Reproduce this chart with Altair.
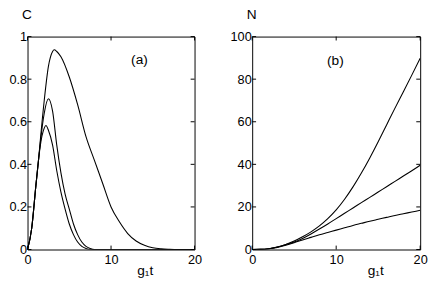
import altair as alt
import pandas as pd

# ---------------- data ----------------
# panel (a): C vs g1 t
t_a1 = [0, 0.5, 1, 1.34, 1.5, 2, 2.5, 3, 3.2, 3.5, 4, 5, 6, 7, 8, 9, 10, 11, 12, 13, 14, 15, 16, 17, 18, 20]
c_a1 = [0, 0.10, 0.30, 0.43, 0.50, 0.70, 0.86, 0.93, 0.938, 0.93, 0.905, 0.81, 0.68, 0.53, 0.42, 0.31, 0.20, 0.13, 0.075, 0.04, 0.02, 0.008, 0.003, 0.001, 0, 0]

t_a2 = [0, 0.5, 1, 1.34, 1.5, 2, 2.5, 3, 3.5, 4, 4.5, 5, 5.5, 6, 6.5, 7, 7.5, 8, 20]
c_a2 = [0, 0.10, 0.30, 0.43, 0.49, 0.64, 0.708, 0.65, 0.49, 0.36, 0.26, 0.19, 0.12, 0.07, 0.035, 0.015, 0.005, 0, 0]

t_a3 = [0, 0.5, 1, 1.34, 1.5, 2, 2.2, 2.5, 3, 3.5, 4, 4.5, 5, 5.5, 6, 6.5, 7, 7.5, 20]
c_a3 = [0, 0.10, 0.30, 0.43, 0.48, 0.57, 0.582, 0.56, 0.49, 0.37, 0.27, 0.19, 0.12, 0.07, 0.035, 0.015, 0.005, 0, 0]

# panel (b): N vs g1 t
t_b = [0, 1, 2, 3, 4, 5, 6, 7, 8, 9, 10, 11, 12, 13, 14, 15, 16, 17, 18, 19, 20]
n_b1 = [0, 0.05, 0.4, 1.2, 2.4, 4.0, 6.0, 8.3, 11.1, 14.5, 18.6, 23.6, 29.4, 35.9, 43.0, 50.6, 58.5, 66.4, 74.1, 81.9, 89.8]
n_b2 = [0, 0.05, 0.4, 1.2, 2.3, 3.5, 5.2, 7.3, 9.6, 12.0, 14.5, 17.0, 19.5, 22.0, 24.5, 27.0, 29.5, 32.0, 34.5, 37.0, 39.6]
n_b3 = [0, 0.05, 0.35, 1.0, 2.0, 3.2, 4.5, 5.7, 6.9, 8.0, 9.1, 10.2, 11.3, 12.3, 13.3, 14.2, 15.1, 16.0, 16.8, 17.6, 18.4]

x_ticks = [0, 10, 20]
ya_ticks = [0, 0.2, 0.4, 0.6, 0.8, 1]
yb_ticks = [0, 20, 40, 60, 80, 100]

# ---------------- tables ----------------
df_a = pd.concat([
    pd.DataFrame({"t": t_a1, "v": c_a1, "s": "1"}),
    pd.DataFrame({"t": t_a2, "v": c_a2, "s": "2"}),
    pd.DataFrame({"t": t_a3, "v": c_a3, "s": "3"}),
])
df_b = pd.concat([
    pd.DataFrame({"t": t_b, "v": n_b1, "s": "1"}),
    pd.DataFrame({"t": t_b, "v": n_b2, "s": "2"}),
    pd.DataFrame({"t": t_b, "v": n_b3, "s": "3"}),
])

FONT = "Liberation Sans"
FS = 13
TL = 4  # tick length


def panel(df, ydom, yticks, ytitle, label, label_pos, W, H, title_x):
    xs = alt.Scale(domain=[0, 20], nice=False, zero=False)
    ys = alt.Scale(domain=ydom, nice=False, zero=False)
    xax = alt.Axis(
        values=x_ticks, format=".1~f", ticks=False, domain=False, grid=False,
        labelPadding=4, labelFlush=False, title="g\u2081t",
        titleX=title_x, titleY=22, titleAlign="center", titleBaseline="middle",
        titleFontWeight="normal", titleFontSize=14)
    yax = alt.Axis(
        values=yticks, format=".1~f", ticks=False, domain=False, grid=False,
        labelPadding=1, labelFlush=False, title=ytitle, titleAngle=0,
        titleX=-1, titleY=-22, titleAlign="center", titleBaseline="middle",
        titleFontWeight="normal", titleFontSize=14)
    lines = alt.Chart(df).mark_line(color="black", strokeWidth=1.1, interpolate="monotone", clip=True).encode(
        x=alt.X("t:Q", scale=xs, axis=xax),
        y=alt.Y("v:Q", scale=ys, axis=yax),
        detail="s:N",
    )
    xt = pd.DataFrame({"t": x_ticks})
    yt = pd.DataFrame({"v": yticks})
    bottom = alt.Chart(xt).mark_rule(color="black").encode(
        x=alt.X("t:Q", scale=xs, axis=xax), y=alt.value(H), y2=alt.value(H - TL))
    top = alt.Chart(xt).mark_rule(color="black").encode(
        x=alt.X("t:Q", scale=xs, axis=xax), y=alt.value(0), y2=alt.value(TL))
    left = alt.Chart(yt).mark_rule(color="black").encode(
        y=alt.Y("v:Q", scale=ys, axis=yax), x=alt.value(0), x2=alt.value(TL))
    right = alt.Chart(yt).mark_rule(color="black").encode(
        y=alt.Y("v:Q", scale=ys, axis=yax), x=alt.value(W), x2=alt.value(W - TL))
    lab = alt.Chart(pd.DataFrame({"t": [label_pos[0]], "v": [label_pos[1]], "txt": [label]})).mark_text(
        font=FONT, fontSize=14, color="black", align="center", baseline="middle").encode(
        x=alt.X("t:Q", scale=xs, axis=xax), y=alt.Y("v:Q", scale=ys, axis=yax), text="txt:N")
    return alt.layer(lines, bottom, top, left, right, lab).properties(width=W, height=H)


WA, WB, H = 171, 172, 218
pa = panel(df_a, [0, 1], ya_ticks, "C", "(a)", (13.4, 0.89), WA, H, 120)
pb = panel(df_b, [0, 100], yb_ticks, "N", "(b)", (9.9, 88.6), WB, H, 126)

chart = alt.hconcat(pa, pb, spacing=27).properties(
    padding={"top": -4, "left": 0, "right": 0, "bottom": 0}, background="white"
).configure_view(
    stroke="black", strokeWidth=1
).configure_axis(
    labelFont=FONT, titleFont=FONT, labelFontSize=FS, labelColor="black", titleColor="black"
)

chart.save("out.html", embed_options={"renderer": "svg", "actions": False})
